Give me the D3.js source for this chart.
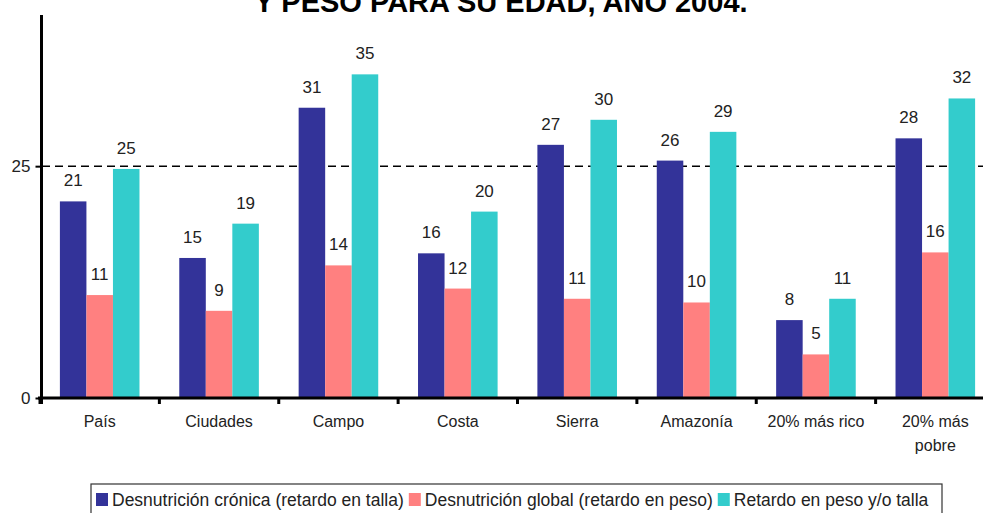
<!DOCTYPE html>
<html>
<head>
<meta charset="utf-8">
<script src="https://cdn.jsdelivr.net/npm/d3@7"></script>
<style>
  body { margin: 0; background: #fff; }
  svg { display: block; font-family: "Liberation Sans", Arial, sans-serif; }
</style>
</head>
<body>
<script>
// data
var categories = ["País", "Ciudades", "Campo", "Costa", "Sierra", "Amazonía", "20% más rico", "20% más pobre"];
var seriesNames = ["Desnutrición crónica (retardo en talla)", "Desnutrición global (retardo en peso)", "Retardo en peso y/o talla"];
var cronica = [21.2, 15.1, 31.3, 15.6, 27.3, 25.6, 8.4, 28.0];
var global = [11.1, 9.4, 14.3, 11.8, 10.7, 10.3, 4.7, 15.7];
var retardo = [24.7, 18.8, 34.9, 20.1, 30.0, 28.7, 10.7, 32.3];
var yTicks = [0, 25];
var refLine = 25;
var colors = ["#333399", "#ff8080", "#33cccc"];

var width = 983, height = 513;
var svg = d3.select("body").append("svg")
    .attr("width", width)
    .attr("height", height);

// title (cut off at the top, as in the original)
svg.append("text")
    .attr("x", 501)
    .attr("y", 12)
    .attr("text-anchor", "middle")
    .style("font-weight", "bold")
    .style("font-size", "29px")
    .attr("fill", "#000")
    .text("Y PESO PARA SU EDAD, AÑO 2004.");

var x = d3.scaleBand().domain(categories).range([40, 995]).padding(0);
var x1 = d3.scaleBand().domain(d3.range(3)).range([0, x.bandwidth()]).paddingInner(0).paddingOuter(0.75);
var y = d3.scaleLinear().domain([0, 41.3]).range([398, 15]);

var rows = categories.map(function(c, i) {
	return {cat: c, vals: [cronica[i], global[i], retardo[i]]};
});

// reference dashed line
svg.append("line")
    .attr("x1", 42).attr("x2", width)
    .attr("y1", y(refLine)).attr("y2", y(refLine))
    .attr("stroke", "#000")
    .attr("stroke-width", 1.5)
    .attr("stroke-dasharray", "8,5");

var groups = svg.selectAll("g.cat")
    .data(rows)
  .enter().append("g")
    .attr("class", "cat")
    .attr("transform", function(d) { return "translate(" + x(d.cat) + ",0)"; });

groups.selectAll("rect")
    .data(function(d) { return d.vals; })
  .enter().append("rect")
    .attr("x", function(d, i) { return x1(i); })
    .attr("y", function(d) { return y(d); })
    .attr("width", x1.bandwidth())
    .attr("height", function(d) { return y(0) - y(d); })
    .attr("fill", function(d, i) { return colors[i]; });

groups.selectAll("text.val")
    .data(function(d) { return d.vals; })
  .enter().append("text")
    .attr("class", "val")
    .attr("x", function(d, i) { return x1(i) + x1.bandwidth() / 2; })
    .attr("y", function(d) { return y(d) - 15; })
    .attr("text-anchor", "middle")
    .style("font-size", "17px")
    .attr("fill", "#222")
    .text(function(d) { return d3.format(".0f")(d); });

// y axis
var yAxis = svg.append("g")
    .attr("transform", "translate(41.5,0)")
    .call(d3.axisLeft(y).tickValues(yTicks).tickSize(6).tickPadding(5));
yAxis.select(".domain").remove();
yAxis.selectAll(".tick line").attr("stroke", "#000").attr("stroke-width", 2);
yAxis.selectAll(".tick text").style("font-size", "17px").attr("fill", "#222").attr("font-family", null);
svg.append("line")
    .attr("x1", 41.5).attr("x2", 41.5)
    .attr("y1", y.range()[1]).attr("y2", 404)
    .attr("stroke", "#000").attr("stroke-width", 3);

// x axis
var xAxis = svg.append("g")
    .attr("transform", "translate(0," + y(0) + ")")
    .call(d3.axisBottom(x).tickSize(0).tickPadding(18));
xAxis.select(".domain").remove();
xAxis.selectAll(".tick text")
    .style("font-size", "16px")
    .attr("fill", "#222")
    .attr("font-family", null)
    .each(function(d) {
	    if (d === "20% más pobre") {
		    var t = d3.select(this).text(null);
		    t.append("tspan").attr("x", 0).attr("dy", "0.71em").text("20% más");
		    t.append("tspan").attr("x", 0).attr("dy", "1.5em").text("pobre");
		    t.attr("dy", null);
	    }
    });
svg.append("line")
    .attr("x1", 38).attr("x2", width)
    .attr("y1", y(0)).attr("y2", y(0))
    .attr("stroke", "#000").attr("stroke-width", 3);
svg.selectAll("line.xtick")
    .data(categories)
  .enter().append("line")
    .attr("class", "xtick")
    .attr("x1", function(d) { return x(d); })
    .attr("x2", function(d) { return x(d); })
    .attr("y1", y(0)).attr("y2", y(0) + 6)
    .attr("stroke", "#000").attr("stroke-width", 3);

// legend
var legend = svg.append("g").attr("transform", "translate(91,484)");
legend.append("rect")
    .attr("x", 0).attr("y", 0)
    .attr("width", 851).attr("height", 40)
    .attr("fill", "#fff")
    .attr("stroke", "#333").attr("stroke-width", 1.2);
var lx = 5;
seriesNames.forEach(function(name, i) {
	legend.append("rect")
	    .attr("x", lx).attr("y", 9)
	    .attr("width", 12).attr("height", 13)
	    .attr("fill", colors[i]);
	var t = legend.append("text")
	    .attr("x", lx + 16).attr("y", 22)
	    .style("font-size", "17.5px")
	    .attr("fill", "#222")
	    .text(name);
	lx += 16 + t.node().getComputedTextLength() + 5;
});
</script>
</body>
</html>
